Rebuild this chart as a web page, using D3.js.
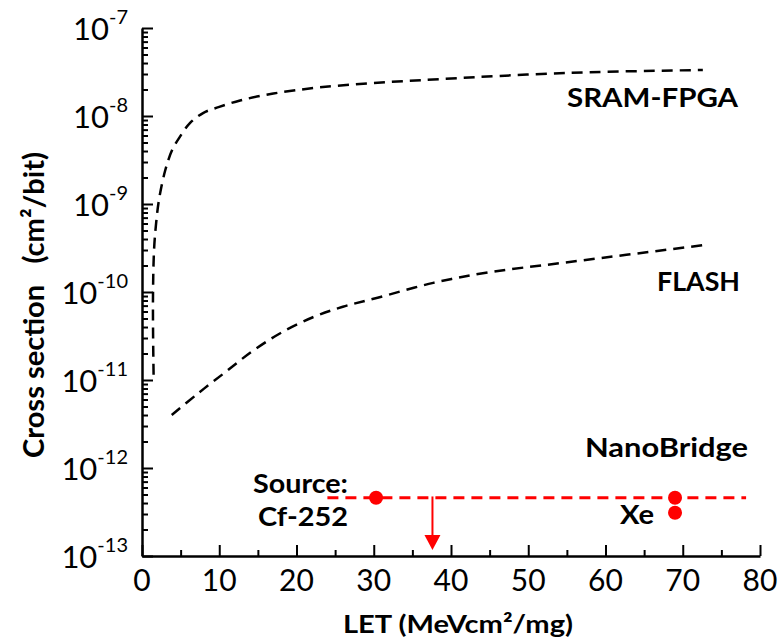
<!DOCTYPE html>
<html>
<head>
<meta charset="utf-8">
<script src="https://cdn.jsdelivr.net/npm/d3@7"></script>
<style>
  body { margin: 0; background: #fff; }
  text { font-family: Lato, "Open Sans", sans-serif; fill: #000; }
</style>
</head>
<body>
<div id="chart"></div>
<script>
// SRAM-FPGA curve (LET, cross section)
var sramLET = [1.5, 1.43, 1.43, 1.56, 1.8, 2.2, 3.0, 3.9, 4.9, 6.2, 7.9, 9.9, 12.7, 17, 22.7, 30, 38.7, 55.5, 72.6];
var sramCS = [1.15e-11, 3.7e-11, 1.05e-10, 3.0e-10, 5.7e-10, 1.12e-9, 2.4e-9, 4.1e-9, 5.8e-9, 8.3e-9, 1.08e-8, 1.26e-8, 1.5e-8, 1.8e-8, 2.1e-8, 2.37e-8, 2.63e-8, 3.1e-8, 3.33e-8];

// FLASH curve
var flashLET = [3.85, 7.3, 10.8, 14.2, 17.9, 22.2, 26, 30.5, 37.7, 45, 54.6, 72.8];
var flashCS = [4e-12, 7.1e-12, 1.23e-11, 2.1e-11, 3.4e-11, 5.2e-11, 6.8e-11, 8.6e-11, 1.27e-10, 1.68e-10, 2.15e-10, 3.42e-10];

// NanoBridge
var nbLineLET = [24, 78.2];
var nbLevel = 4.6e-13;
var nbPointLET = [30.3, 69, 69];
var nbPointCS = [4.6e-13, 4.6e-13, 3.1e-13];
var arrowLET = 37.6;
var arrowCS = [4.75e-13, 1.17e-13];

var xTicks = [0, 10, 20, 30, 40, 50, 60, 70, 80];
var xMinor = [5, 15, 25, 35, 45, 55, 65, 75];
var yExp = [-13, -12, -11, -10, -9, -8, -7];

var width = 784, height = 638;
var svg = d3.select('#chart').append('svg')
  .attr('width', width)
  .attr('height', height);

var x = d3.scaleLinear().domain([0, 80]).range([142, 760]);
var y = d3.scaleLog().domain([1e-13, 1e-7]).range([556, 28]);

var yMajor = yExp.map(function(e) { return Math.pow(10, e); });
var yMinor = [];
yExp.slice(0, -1).forEach(function(e) {
  for (var k = 2; k <= 9; k++) yMinor.push(k * Math.pow(10, e));
});

// y axis
var gy = svg.append('g').attr('transform', 'translate(142,0)');
gy.call(d3.axisLeft(y).tickValues(yMajor).tickSizeInner(-11).tickSizeOuter(0).tickFormat(''));
gy.append('g').call(d3.axisLeft(y).tickValues(yMinor).tickSizeInner(-6).tickSizeOuter(0).tickFormat(''))
  .select('.domain').remove();

// x axis
var gx = svg.append('g').attr('transform', 'translate(0,556)');
gx.call(d3.axisBottom(x).tickValues(xTicks).tickSizeInner(-11).tickSizeOuter(0).tickFormat(''));
gx.append('g').call(d3.axisBottom(x).tickValues(xMinor).tickSizeInner(-6).tickSizeOuter(0).tickFormat(''))
  .select('.domain').remove();

svg.selectAll('.domain').attr('stroke', '#000').attr('stroke-width', 2.5);
svg.selectAll('.tick line').attr('stroke', '#000').attr('stroke-width', 2);

// x tick labels
svg.append('g').selectAll('text')
  .data(xTicks).enter().append('text')
  .attr('x', function(d) { return x(d); })
  .attr('y', 591)
  .attr('text-anchor', 'middle')
  .style('font-size', '30px')
  .text(function(d) { return d; });

// y tick labels 10^n
var yl = svg.append('g').selectAll('text')
  .data(yExp).enter().append('text')
  .attr('x', 128)
  .attr('y', function(d) { return y(Math.pow(10, d)) + 12; })
  .attr('text-anchor', 'end')
  .style('font-size', '31px');
yl.append('tspan').text('10');
yl.append('tspan').attr('dy', -16).style('font-size', '20px')
  .text(function(d) { return '-' + Math.abs(d); });

// axis titles
svg.append('text')
  .attr('transform', 'translate(44,305) rotate(-90)')
  .attr('text-anchor', 'middle')
  .attr('textLength', 306)
  .attr('lengthAdjust', 'spacingAndGlyphs')
  .style('white-space', 'pre')
  .style('font-size', '29px')
  .style('font-weight', 'bold')
  .text('Cross section   (cm\u00b2/bit)');

svg.append('text')
  .attr('x', 343)
  .attr('y', 633)
  .attr('textLength', 230)
  .attr('lengthAdjust', 'spacingAndGlyphs')
  .style('font-size', '25px')
  .style('font-weight', 'bold')
  .text('LET (MeVcm\u00b2/mg)');

// dashed curves
var line = d3.line()
  .x(function(d) { return x(d[0]); })
  .y(function(d) { return y(d[1]); })
  .curve(d3.curveCatmullRom.alpha(0.5));

svg.append('path')
  .datum(d3.zip(sramLET, sramCS))
  .attr('d', line)
  .attr('fill', 'none')
  .attr('stroke', '#000')
  .attr('stroke-width', 2.5)
  .attr('stroke-dasharray', '11,7');

svg.append('path')
  .datum(d3.zip(flashLET, flashCS))
  .attr('d', line)
  .attr('fill', 'none')
  .attr('stroke', '#000')
  .attr('stroke-width', 2.5)
  .attr('stroke-dasharray', '11,7');

// NanoBridge
svg.append('line')
  .attr('x1', x(nbLineLET[0])).attr('x2', x(nbLineLET[1]))
  .attr('y1', y(nbLevel)).attr('y2', y(nbLevel))
  .attr('stroke', '#ff0000')
  .attr('stroke-width', 3)
  .attr('stroke-dasharray', '11,7');

svg.append('g').selectAll('circle')
  .data(d3.zip(nbPointLET, nbPointCS)).enter().append('circle')
  .attr('cx', function(d) { return x(d[0]); })
  .attr('cy', function(d) { return y(d[1]); })
  .attr('r', 7)
  .attr('fill', '#ff0000');

// arrow
var ax = x(arrowLET), ay0 = y(arrowCS[0]), ay1 = y(arrowCS[1]);
svg.append('line')
  .attr('x1', ax).attr('x2', ax)
  .attr('y1', ay0).attr('y2', ay1 - 12)
  .attr('stroke', '#ff0000')
  .attr('stroke-width', 2);
svg.append('path')
  .attr('d', 'M' + (ax - 8) + ',' + (ay1 - 15) + 'L' + (ax + 8) + ',' + (ay1 - 15) + 'L' + ax + ',' + ay1 + 'Z')
  .attr('fill', '#ff0000');

// labels
var labels = [
  {t: 'SRAM-FPGA', x: 567, y: 107, w: 171},
  {t: 'FLASH', x: 657, y: 291, w: 83},
  {t: 'NanoBridge', x: 585, y: 457, w: 163},
  {t: 'Source:', x: 253, y: 493, w: 95},
  {t: 'Cf-252', x: 258, y: 526, w: 90},
  {t: 'Xe', x: 620, y: 524, w: 34}
];
svg.append('g').selectAll('text')
  .data(labels).enter().append('text')
  .attr('x', function(d) { return d.x; })
  .attr('y', function(d) { return d.y; })
  .attr('textLength', function(d) { return d.w; })
  .attr('lengthAdjust', 'spacingAndGlyphs')
  .style('font-size', '26px')
  .style('font-weight', 'bold')
  .text(function(d) { return d.t; });
</script>
</body>
</html>
